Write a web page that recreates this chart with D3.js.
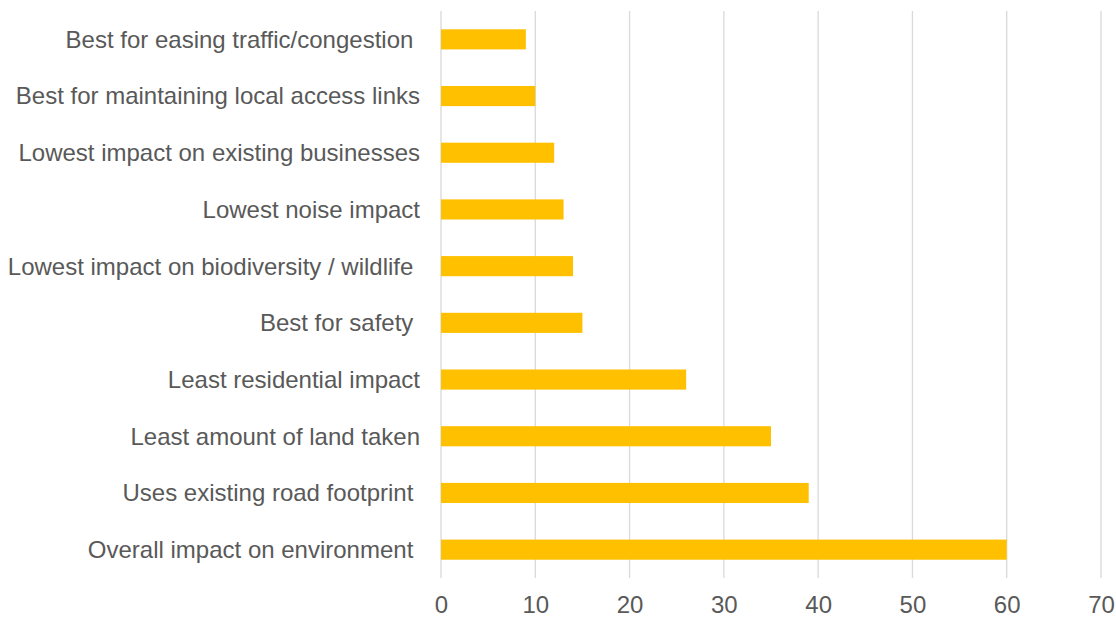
<!DOCTYPE html>
<html>
<head>
<meta charset="utf-8">
<script src="https://cdn.jsdelivr.net/npm/d3@7"></script>
<style>
  body { margin: 0; background: #fff; }
  text { font-family: "Liberation Sans", Arial, sans-serif; fill: #595959; }
</style>
</head>
<body>
<div id="chart"></div>
<script>
// categories, top to bottom (trailing spaces kept as in the original labels)
var categories = [
  "Best for easing traffic/congestion ",
  "Best for maintaining local access links",
  "Lowest impact on existing businesses",
  "Lowest noise impact",
  "Lowest impact on biodiversity / wildlife ",
  "Best for safety ",
  "Least residential impact",
  "Least amount of land taken",
  "Uses existing road footprint ",
  "Overall impact on environment "
];
var values = [9, 10, 12, 13, 14, 15, 26, 35, 39, 60];
var xTicks = [0, 10, 20, 30, 40, 50, 60, 70];

var width = 1116,
    height = 619;
var margin = {top: 11, right: 15, bottom: 42, left: 441};

var data = categories.map(function(c, i) { return {label: c, value: values[i]}; });

var svg = d3.select("#chart")
            .append("svg")
            .attr("width", width)
            .attr("height", height);

var widthp = width - margin.left - margin.right;
var heightp = height - margin.top - margin.bottom;

var g = svg.append("g")
           .attr("transform", "translate(" + margin.left + "," + margin.top + ")");

var xScale = d3.scaleLinear()
               .domain([0, 70])
               .range([0, 660]);
var yScale = d3.scaleBand()
               .domain(categories)
               .range([0, heightp + 1])
               .paddingInner(0.645)
               .paddingOuter(0.3225);

// gridlines
g.selectAll("line.grid")
 .data(xTicks)
 .enter()
 .append("line")
 .attr("class", "grid")
 .attr("x1", function(d) { return xScale(d); })
 .attr("x2", function(d) { return xScale(d); })
 .attr("y1", 0)
 .attr("y2", heightp + 1)
 .attr("stroke", "#d9d9d9")
 .attr("stroke-width", 1.3);

// bars
g.selectAll("rect.bar")
 .data(data)
 .enter()
 .append("rect")
 .attr("class", "bar")
 .attr("x", xScale(0))
 .attr("y", function(d) { return yScale(d.label); })
 .attr("width", function(d) { return xScale(d.value) - xScale(0); })
 .attr("height", yScale.bandwidth())
 .attr("fill", "#ffc000");

// category labels
g.selectAll("text.cat")
 .data(data)
 .enter()
 .append("text")
 .attr("class", "cat")
 .attr("x", -21)
 .attr("y", function(d) { return yScale(d.label) + yScale.bandwidth() / 2; })
 .attr("dy", "0.35em")
 .attr("text-anchor", "end")
 .style("white-space", "pre")
 .style("font-size", "24px")
 .text(function(d) { return d.label; });

// x axis labels
var xAxis = g.append("g")
             .attr("transform", "translate(0," + heightp + ")")
             .call(d3.axisBottom(xScale).tickValues(xTicks).tickSize(0).tickPadding(19));
xAxis.select(".domain").remove();
xAxis.selectAll("text")
     .style("font-size", "24px")
     .attr("fill", "#595959");
</script>
</body>
</html>
